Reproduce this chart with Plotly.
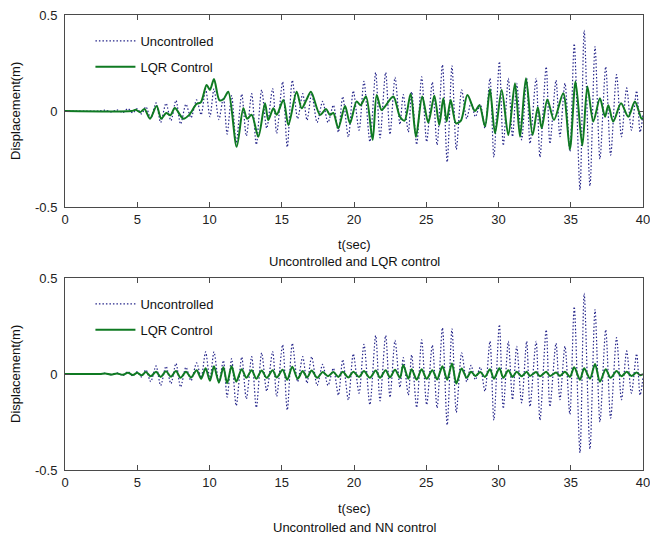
import plotly.graph_objects as go

# ---------------- data ----------------
t_unc = [0.0, 2.4, 2.8, 3.2, 3.6, 4.0, 4.35, 4.7, 5.0, 5.3, 5.6,
         5.93, 6.30, 6.62, 6.99, 7.33, 7.68, 8.0, 8.37, 8.72, 9.11, 9.42, 9.73, 10.03, 10.31, 10.65, 10.96, 11.22, 11.53, 11.85, 12.23,
         12.55, 12.92, 13.24, 13.61, 13.96, 14.37, 14.65, 15.06, 15.38, 15.73, 16.1, 16.45, 16.75, 17.07, 17.45, 17.83, 18.2, 18.57, 18.92, 19.22, 19.61, 19.95,
         20.35, 20.69, 21.1, 21.5, 21.8, 22.19, 22.49, 22.84, 23.18, 23.41, 23.76, 23.99, 24.34, 24.68, 25.03, 25.42, 25.75, 26.12, 26.45, 26.78, 27.08, 27.45, 27.8, 28.1, 28.4, 28.74, 29.06, 29.41,
         29.68, 30.06, 30.33, 30.68, 30.97, 31.26, 31.6, 31.95, 32.18, 32.6, 32.87, 33.3, 33.56, 33.98, 34.25, 34.6, 34.94, 35.24, 35.64, 35.93, 36.33, 36.68, 37.02, 37.42, 37.76, 38.17, 38.51, 38.87, 39.2, 39.56, 39.8, 40.0]

v_unc = [0.0, 0.0, 0.004, -0.005, 0.006, -0.008, 0.012, -0.01, 0.012, -0.015, 0.022,
         -0.04, 0.042, -0.06, 0.04, -0.05, 0.055, -0.068, 0.035, -0.035, 0.058, -0.02, 0.115, -0.03, 0.115, -0.045, 0.07, -0.12, 0.08, -0.165, 0.088,
         -0.13, 0.09, -0.175, 0.11, -0.09, 0.117, -0.117, 0.152, -0.188, 0.16, -0.04, 0.09, -0.048, 0.09, -0.06, 0.05, -0.06, 0.03, -0.11, 0.075, -0.135, 0.105,
         -0.1, 0.155, -0.16, 0.2, -0.14, 0.2, -0.122, 0.175, -0.07, 0.085, -0.11, 0.1, -0.175, 0.178, -0.16, 0.15, -0.177, 0.24, -0.265, 0.235, -0.2, 0.11, -0.04, 0.045, -0.03, 0.035, -0.09, 0.17,
         -0.24, 0.257, -0.18, 0.17, -0.134, 0.144, -0.15, 0.17, -0.17, 0.17, -0.24, 0.23, -0.17, 0.16, -0.134, 0.144, -0.21, 0.35, -0.41, 0.42, -0.39, 0.335, -0.25, 0.23, -0.23, 0.19, -0.134, 0.12, -0.1, 0.105, -0.11, -0.02]

v_nn = [0.0, 0.0, 0.002, -0.003, 0.003, -0.004, 0.006, -0.005, 0.006, -0.007, 0.01,
        -0.012, 0.012, -0.015, 0.014, -0.014, 0.016, -0.02, 0.012, -0.018, 0.02, -0.025, 0.03, -0.035, 0.04, -0.045, 0.035, -0.048, 0.04, -0.04, 0.025,
        -0.02, 0.02, -0.025, 0.018, -0.02, 0.02, -0.018, 0.022, -0.03, 0.038, -0.025, 0.015, -0.018, 0.018, -0.02, 0.01, -0.012, 0.01, -0.015, 0.012, -0.018, 0.012,
        -0.015, 0.015, -0.02, 0.018, -0.02, 0.02, -0.018, 0.022, -0.02, 0.047, -0.025, 0.025, -0.03, 0.025, -0.025, 0.02, -0.028, 0.04, -0.03, 0.055, -0.05, 0.028, -0.02, 0.012, -0.01, 0.01, -0.015, 0.025,
        -0.025, 0.03, -0.02, 0.02, -0.015, 0.012, -0.012, 0.012, -0.01, 0.01, -0.012, 0.012, -0.01, 0.008, -0.01, 0.012, -0.015, 0.035, -0.03, 0.03, -0.025, 0.052, -0.04, 0.025, -0.02, 0.015, -0.012, 0.012, -0.01, 0.008, -0.006, 0.0]

t_lqr = [0.0, 4.6, 4.9, 5.2, 5.5, 5.88, 6.34, 6.66, 7.0, 7.3, 7.6, 8.19, 8.6, 9.1, 9.4, 9.8, 10.03, 10.31, 10.68, 10.95, 11.3, 11.88,
         12.34, 12.6, 12.92, 13.38, 13.84, 14.07, 14.42, 14.65, 15.11, 15.46, 16.03, 16.38, 16.72, 17.02, 17.65, 18.06, 18.33, 18.57, 18.91, 19.38, 19.72,
         20.18, 20.45, 20.83, 21.29, 21.57, 21.9, 22.14, 22.72, 23.18, 23.5, 23.92, 24.29, 24.72, 25.14, 25.56, 25.9, 26.18, 26.41, 26.69, 27.06, 27.4, 27.85, 28.37, 28.68, 29.07,
         29.41, 29.76, 30.22, 30.68, 31.14, 31.49, 31.9, 32.36, 32.72, 32.99, 33.38, 33.84, 34.48, 34.94, 35.33, 35.8, 36.15, 36.56, 37.02, 37.37, 37.6, 37.94, 38.48, 38.98, 39.44, 39.9, 40.0]

v_lqr = [0.0, 0.0, 0.006, -0.006, 0.01, -0.04, 0.026, -0.04, -0.01, -0.022, 0.015, -0.04, -0.02, 0.036, 0.045, 0.135, 0.11, 0.167, 0.057, 0.06, 0.1, -0.186,
         0.014, -0.04, -0.02, -0.134, 0.04, -0.047, 0.014, -0.02, 0.057, -0.073, 0.1, 0.014, 0.06, 0.1, -0.02, 0.01, -0.02, -0.01, -0.09, 0.026, -0.064,
         0.05, 0.03, 0.075, -0.15, 0.083, 0.005, 0.023, 0.075, -0.03, -0.05, 0.09, -0.134, 0.075, -0.06, 0.08, -0.073, 0.066, -0.055, 0.057, -0.064, -0.05, 0.083, 0.0, 0.03, -0.08,
         0.113, -0.116, 0.11, -0.125, 0.144, -0.134, 0.17, -0.125, 0.02, -0.09, 0.06, -0.047, 0.092, -0.2, 0.153, -0.18, 0.127, -0.055, 0.066, -0.03, 0.03, -0.055, 0.04, -0.03, 0.05, -0.04, -0.035]

x_ticks = [0, 5, 10, 15, 20, 25, 30, 35, 40]
y_ticks = [-0.5, 0, 0.5]
y_tick_text = ["-0.5", "0", "0.5"]
captions = ["Uncontrolled and LQR control", "Uncontrolled and NN control"]

assert len(t_unc) == len(v_unc) == len(v_nn), (len(t_unc), len(v_unc), len(v_nn))
assert len(t_lqr) == len(v_lqr), (len(t_lqr), len(v_lqr))

# ---------------- styling ----------------
FONT = "Liberation Sans, Arial, sans-serif"
C_UNC = "#26268a"
C_CTL = "#0f7a22"
AX_COL = "#4a4a4a"

fig = go.Figure()

dot_line = dict(color=C_UNC, width=1.2, dash="1.5px,2px", shape="spline", smoothing=0.8)
ctl_line = dict(color=C_CTL, width=2, shape="spline", smoothing=0.8)

fig.add_trace(go.Scatter(x=t_unc, y=v_unc, mode="lines", name="Uncontrolled", line=dot_line,
                         xaxis="x", yaxis="y", legend="legend", legendgroup="a"))
fig.add_trace(go.Scatter(x=t_lqr, y=v_lqr, mode="lines", name="LQR Control", line=ctl_line,
                         xaxis="x", yaxis="y", legend="legend", legendgroup="b"))
fig.add_trace(go.Scatter(x=t_unc, y=v_unc, mode="lines", name="Uncontrolled", line=dot_line,
                         xaxis="x2", yaxis="y2", legend="legend2", legendgroup="c"))
fig.add_trace(go.Scatter(x=t_unc, y=v_nn, mode="lines", name="LQR Control", line=ctl_line,
                         xaxis="x2", yaxis="y2", legend="legend2", legendgroup="d"))

def xax(anchor):
    return dict(domain=[0, 1], anchor=anchor, range=[0, 40], tickvals=x_ticks,
                ticks="inside", ticklen=5, tickcolor=AX_COL, showline=True, linecolor=AX_COL,
                linewidth=1, mirror="ticks", showgrid=False, zeroline=False,
                ticklabeloverflow="allow", automargin=False,
                tickfont=dict(family=FONT, size=13, color="#222"))

def yax(anchor, dom):
    return dict(domain=dom, anchor=anchor, range=[-0.5, 0.5], tickvals=y_ticks, ticktext=y_tick_text,
                ticks="inside", ticklen=5, tickcolor=AX_COL, showline=True, linecolor=AX_COL,
                linewidth=1, mirror="ticks", showgrid=False, zeroline=False,
                ticklabelstandoff=4, automargin=False,
                tickfont=dict(family=FONT, size=13, color="#222"))

top_dom = [1 - 192 / 455, 1]
bot_dom = [0, 192 / 455]

leg_common = dict(bgcolor="rgba(0,0,0,0)", borderwidth=0, xanchor="left", yanchor="top",
                  font=dict(family=FONT, size=13, color="#111"), tracegroupgap=6,
                  itemwidth=40)

fig.update_layout(
    width=650, height=536,
    margin=dict(l=65, r=7, t=15, b=66),
    paper_bgcolor="white", plot_bgcolor="white",
    font=dict(family=FONT, size=13, color="#111"),
    xaxis=xax("y"), yaxis=yax("x", top_dom),
    xaxis2=xax("y2"), yaxis2=yax("x2", bot_dom),
    legend=dict(x=0.044, y=(470 - 26) / 455, **leg_common),
    legend2=dict(x=0.044, y=(470 - 289) / 455, **leg_common),
)

ann = []
for yref, y1, y2, cap in [("y domain", -0.193, -0.286, captions[0]),
                          ("y2 domain", -0.203, -0.297, captions[1])]:
    xr = "x domain" if yref == "y domain" else "x2 domain"
    ann.append(dict(text="t(sec)", xref=xr, yref=yref, x=0.5, y=y1, showarrow=False,
                    xanchor="center", yanchor="middle", font=dict(family=FONT, size=13, color="#111")))
    ann.append(dict(text=cap, xref=xr, yref=yref, x=0.5, y=y2, showarrow=False,
                    xanchor="center", yanchor="middle", font=dict(family=FONT, size=13, color="#111")))
    ann.append(dict(text="Displacement(m)", xref="paper", yref=yref, x=(15 - 65) / 578, y=0.5,
                    textangle=-90, showarrow=False, xanchor="center", yanchor="middle",
                    font=dict(family=FONT, size=13, color="#111")))
fig.update_layout(annotations=ann)

fig.write_html("out.html")
